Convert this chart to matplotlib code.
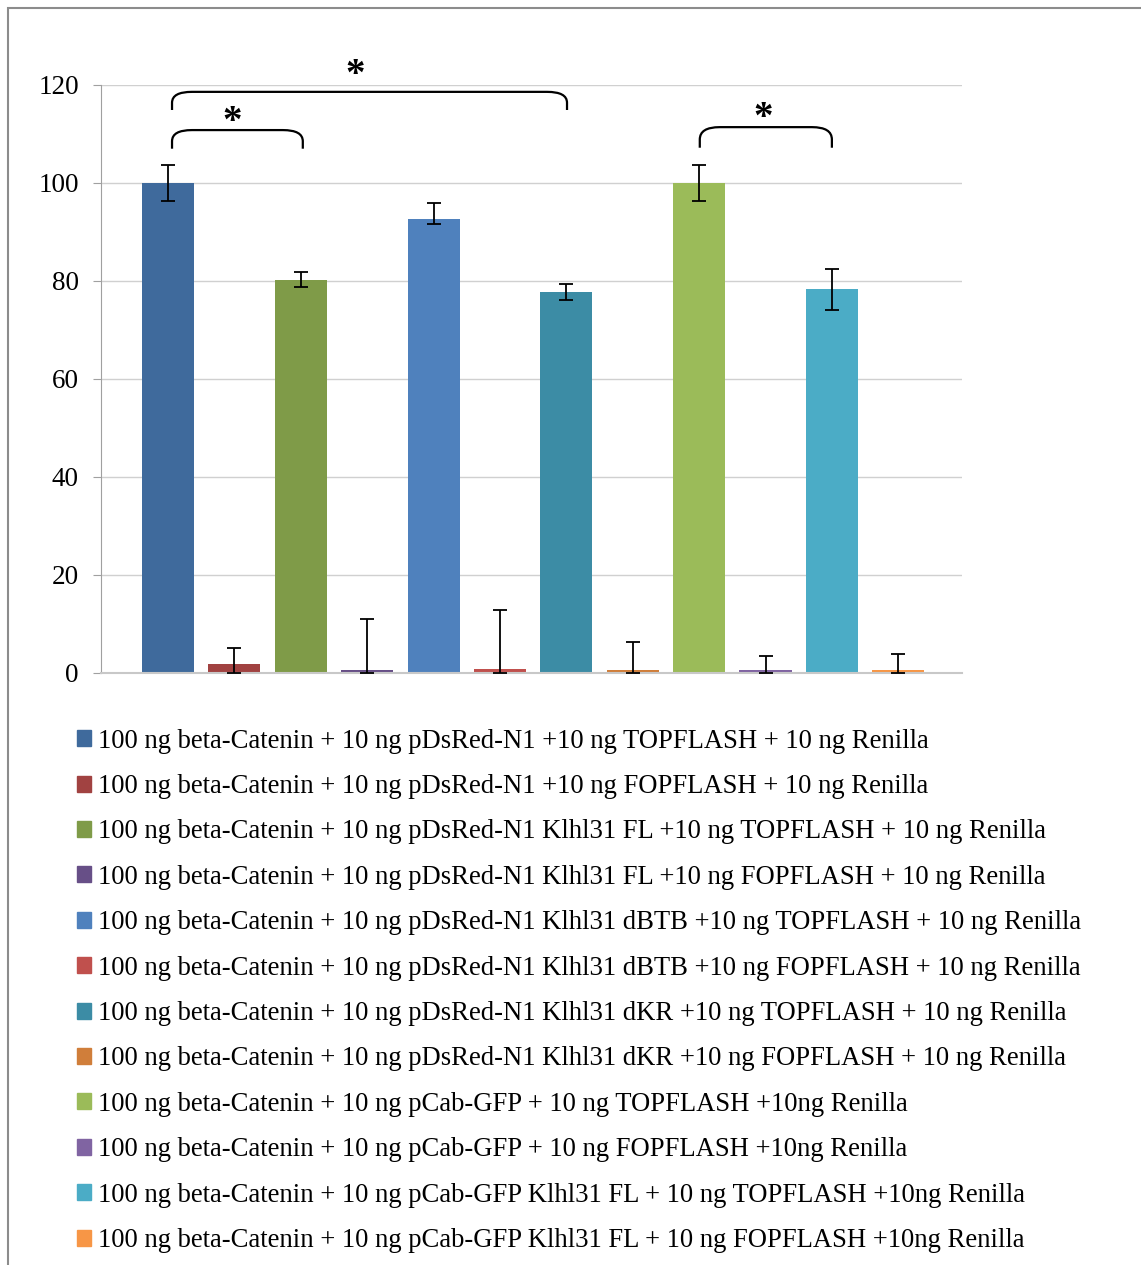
import numpy as np
import matplotlib.pyplot as plt
from matplotlib.path import Path
from matplotlib.patches import PathPatch, Rectangle

plt.rcParams['font.family'] = ['Liberation Serif', 'DejaVu Serif']

# data
labels = [
    "100 ng beta-Catenin + 10 ng pDsRed-N1 +10 ng TOPFLASH + 10 ng Renilla",
    "100 ng beta-Catenin + 10 ng pDsRed-N1 +10 ng FOPFLASH + 10 ng Renilla",
    "100 ng beta-Catenin + 10 ng pDsRed-N1 Klhl31 FL +10 ng TOPFLASH + 10 ng Renilla",
    "100 ng beta-Catenin + 10 ng pDsRed-N1 Klhl31 FL +10 ng FOPFLASH + 10 ng Renilla",
    "100 ng beta-Catenin + 10 ng pDsRed-N1 Klhl31 dBTB +10 ng TOPFLASH + 10 ng Renilla",
    "100 ng beta-Catenin + 10 ng pDsRed-N1 Klhl31 dBTB +10 ng FOPFLASH + 10 ng Renilla",
    "100 ng beta-Catenin + 10 ng pDsRed-N1 Klhl31 dKR +10 ng TOPFLASH + 10 ng Renilla",
    "100 ng beta-Catenin + 10 ng pDsRed-N1 Klhl31 dKR +10 ng FOPFLASH + 10 ng Renilla",
    "100 ng beta-Catenin + 10 ng pCab-GFP + 10 ng TOPFLASH +10ng Renilla",
    "100 ng beta-Catenin + 10 ng pCab-GFP + 10 ng FOPFLASH +10ng Renilla",
    "100 ng beta-Catenin + 10 ng pCab-GFP Klhl31 FL + 10 ng TOPFLASH +10ng Renilla",
    "100 ng beta-Catenin + 10 ng pCab-GFP Klhl31 FL + 10 ng FOPFLASH +10ng Renilla",
]
values = [100, 1.8, 80.3, 0.6, 92.6, 0.8, 77.7, 0.6, 100, 0.6, 78.3, 0.6]
err_hi = [3.6, 3.4, 1.6, 10.5, 3.4, 12.1, 1.6, 5.7, 3.6, 2.8, 4.2, 3.3]
err_lo = [3.6, 1.8, 1.6, 0.6, 0.9, 0.8, 1.5, 0.6, 3.6, 0.6, 4.2, 0.6]
colors = ["#3F6A9C", "#A14241", "#7F9B48", "#674F87", "#4F81BD", "#C0504D",
          "#3C8CA5", "#D07E3A", "#9BBB59", "#8064A2", "#4BACC6", "#F79646"]

# significance brackets: (left bar, right bar, foot y, top y, star x, star y)
brackets = [(0.06, 2.03, 107.0, 110.8, 0.96, 112.3),
            (0.06, 6.01, 114.9, 118.6, 2.82, 122.0),
            (8.01, 10.0, 107.2, 111.4, 8.96, 113.2)]

fig = plt.figure(figsize=(11.41, 12.65), dpi=100)
ax = fig.add_axes([101 / 1141, 1 - 673 / 1265, 861 / 1141, 588 / 1265])

x = np.arange(len(values))
ax.bar(x, values, width=0.785, color=colors, zorder=2)
ax.errorbar(x, values, yerr=[err_lo, err_hi], fmt='none', ecolor='black',
            elinewidth=1.3, capsize=5, capthick=1.3, zorder=3)

ax.set_xlim(-1.01, 11.96)
ax.set_ylim(0, 120)
ax.set_yticks(range(0, 121, 20))
ax.set_xticks([])
ax.grid(axis='y', color='#D0D0D0', linewidth=1.0, zorder=0)
for s in ['top', 'right']:
    ax.spines[s].set_visible(False)
ax.spines['left'].set_color('#A0A0A0')
ax.spines['bottom'].set_color('#C8C8C8')
ax.spines['bottom'].set_linewidth(1.5)
ax.tick_params(axis='y', length=6, color='#A0A0A0', labelsize=19.5, pad=10)

for x0, x1, yb, yt, sx, sy in brackets:
    r = 0.3
    dy = (yt - yb) * 0.6
    verts = [(x0, yb), (x0, yt - dy), (x0, yt), (x0 + r, yt),
             (x1 - r, yt), (x1, yt), (x1, yt - dy), (x1, yb)]
    codes = [Path.MOVETO, Path.LINETO, Path.CURVE3, Path.CURVE3,
             Path.LINETO, Path.CURVE3, Path.CURVE3, Path.LINETO]
    ax.add_patch(PathPatch(Path(verts, codes), fill=False, lw=1.6,
                           edgecolor='black', clip_on=False, zorder=4))
    ax.text(sx, sy, '*', ha='center', va='center', fontsize=28,
            fontweight='bold', clip_on=False)

handles = [Rectangle((0, 0), 1, 1, color=c) for c in colors]
fig.legend(handles, labels, loc='upper left', bbox_to_anchor=(66 / 1141, 1 - 718 / 1265),
           frameon=False, fontsize=19.2, handlelength=0.55, handleheight=0.55,
           handletextpad=0.25, labelspacing=0.765, borderaxespad=0)

fig.add_artist(Rectangle((8 / 1141, -0.01), 1.2, 1 - 8 / 1265 + 0.01,
                         transform=fig.transFigure, fill=False,
                         edgecolor='#8C8C8C', lw=1.5))

fig.savefig('out.png', dpi=100)
